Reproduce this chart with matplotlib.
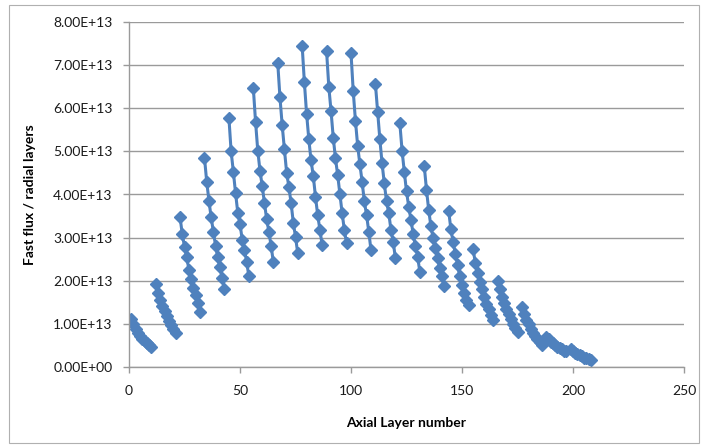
import numpy as np
import matplotlib
matplotlib.use("Agg")
import matplotlib.pyplot as plt
from matplotlib.patches import Rectangle
from matplotlib.ticker import FuncFormatter, MultipleLocator

# ==========================================
# Data (flux in units of 1e13)
# ==========================================
group_first_layer = [1, 12, 23, 34, 45, 56, 67, 78, 89, 100,
                     111, 122, 133, 144, 155, 166, 177, 188, 199]
points_per_group = 10

flux_e13 = [
    1.12, 1.00, 0.89, 0.80, 0.72, 0.65, 0.60, 0.55, 0.51, 0.47,
    1.93, 1.72, 1.56, 1.42, 1.30, 1.18, 1.07, 0.97, 0.87, 0.80,
    3.47, 3.08, 2.79, 2.55, 2.25, 2.03, 1.84, 1.67, 1.48, 1.27,
    4.85, 4.30, 3.86, 3.47, 3.14, 2.81, 2.54, 2.31, 2.06, 1.80,
    5.78, 5.00, 4.53, 4.03, 3.58, 3.32, 2.95, 2.71, 2.44, 2.10,
    6.47, 5.69, 5.02, 4.55, 4.20, 3.81, 3.43, 3.14, 2.81, 2.44,
    7.05, 6.25, 5.61, 5.05, 4.51, 4.18, 3.81, 3.35, 3.02, 2.64,
    7.45, 6.60, 5.87, 5.28, 4.79, 4.43, 3.95, 3.52, 3.18, 2.83,
    7.32, 6.50, 5.94, 5.32, 4.84, 4.45, 4.01, 3.57, 3.18, 2.87,
    7.28, 6.40, 5.71, 5.13, 4.70, 4.30, 3.84, 3.53, 3.14, 2.71,
    6.56, 5.92, 5.28, 4.72, 4.26, 3.84, 3.57, 3.18, 2.91, 2.52,
    5.65, 5.02, 4.53, 4.07, 3.72, 3.41, 3.09, 2.81, 2.56, 2.21,
    4.66, 4.11, 3.64, 3.26, 2.99, 2.75, 2.52, 2.29, 2.10, 1.88,
    3.62, 3.19, 2.90, 2.63, 2.36, 2.11, 1.90, 1.71, 1.55, 1.44,
    2.73, 2.42, 2.18, 1.98, 1.80, 1.62, 1.47, 1.34, 1.21, 1.09,
    2.00, 1.80, 1.62, 1.48, 1.35, 1.22, 1.11, 1.00, 0.90, 0.82,
    1.38, 1.22, 1.10, 0.99, 0.89, 0.80, 0.72, 0.65, 0.58, 0.52,
    0.70, 0.64, 0.59, 0.55, 0.51, 0.47, 0.44, 0.41, 0.38, 0.36,
    0.41, 0.37, 0.33, 0.30, 0.27, 0.25, 0.22, 0.20, 0.18, 0.17,
]

flux = np.array(flux_e13) * 1e13

# ==========================================
# Plot
# ==========================================
plt.rcParams['font.family'] = ['Lato', 'DejaVu Sans']
blue = "#4F81BD"
grid_grey = "#9a9a9a"

fig = plt.figure(figsize=(7.02, 4.48), dpi=100)
ax = fig.add_axes([129 / 702, 81 / 448, 555 / 702, 345 / 448])

# chart border
fig.patches.append(Rectangle((9 / 702, 5 / 448), 690 / 702, 438 / 448,
                             transform=fig.transFigure, fill=False,
                             edgecolor="#b0b0b0", linewidth=0.8))

# one segment per radial block (blank rows in the sheet break the line)
for g, first in enumerate(group_first_layer):
    layers = [first + i for i in range(points_per_group)]
    values = flux[g * points_per_group:(g + 1) * points_per_group]
    ax.plot(layers, values, color=blue, linewidth=2.2,
            marker='D', markersize=6.5, markerfacecolor=blue, markeredgecolor=blue)

ax.set_xlim(0, 250)
ax.set_ylim(0, 8e13)
ax.xaxis.set_major_locator(MultipleLocator(50))
ax.yaxis.set_major_locator(MultipleLocator(1e13))
ax.yaxis.set_major_formatter(FuncFormatter(lambda v, p: f"{v:.2E}"))

ax.grid(axis='y', color=grid_grey, linewidth=1.0)
ax.set_axisbelow(True)
for side in ("top", "right"):
    ax.spines[side].set_visible(False)
for side in ("left", "bottom"):
    ax.spines[side].set_color(grid_grey)
    ax.spines[side].set_linewidth(1.0)

ax.tick_params(axis='both', direction='out', length=4, width=1.0,
               color=grid_grey, labelsize=10, labelcolor="#1a1a1a")
ax.tick_params(axis='y', pad=8)
ax.tick_params(axis='x', pad=9)

ax.set_xlabel("Axial Layer number", fontsize=10, fontweight='bold', labelpad=14)
ax.set_ylabel("Fast flux / radial layers", fontsize=10, fontweight='bold', labelpad=12)

fig.savefig("out.png", dpi=100)
